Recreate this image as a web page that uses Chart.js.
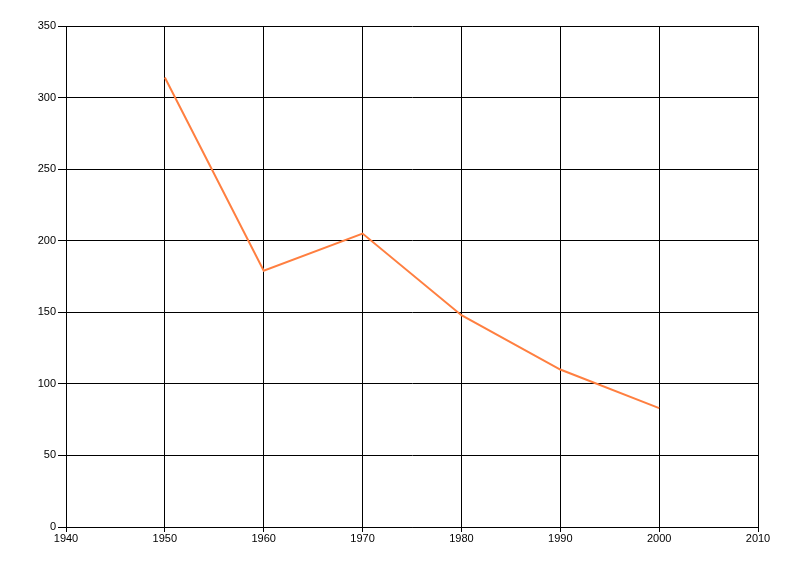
<!DOCTYPE html>
<html>
<head>
<meta charset="utf-8">
<script src="https://cdn.jsdelivr.net/npm/chart.js@4/dist/chart.umd.min.js"></script>
<style>
  html, body { margin: 0; padding: 0; background: #fff; }
  #wrap { width: 800px; height: 576px; }
</style>
</head>
<body>
<div id="wrap"><canvas id="chart" width="800" height="576"></canvas></div>
<script>
// data
const years = [1950, 1960, 1970, 1980, 1990, 2000];
const values = [314, 179, 205, 148, 110, 83];

const xMin = 1940, xMax = 2010, xStep = 10;
const yMin = 0, yMax = 350, yStep = 50;

const points = years.map((y, i) => ({ x: y, y: values[i] }));

new Chart(document.getElementById("chart"), {
  type: "line",
  data: {
    datasets: [{
      data: points,
      borderColor: "#ff7f40",
      borderWidth: 2,
      pointRadius: 0,
      tension: 0,
      fill: false
    }]
  },
  options: {
    responsive: false,
    animation: false,
    layout: { padding: { top: 26, right: 42, left: 0, bottom: 0 } },
    plugins: { legend: { display: false }, tooltip: { enabled: false } },
    scales: {
      x: {
        type: "linear",
        min: xMin, max: xMax,
        border: { color: "#000", width: 1 },
        grid: { color: "#000", lineWidth: 1, tickLength: 5, drawTicks: true },
        ticks: {
          stepSize: xStep, color: "#000", padding: 0, maxRotation: 0,
          font: { family: "'Liberation Sans', Arial", size: 11 },
          callback: v => String(v)
        },
        afterFit: s => { s.height = 49; }
      },
      y: {
        min: yMin, max: yMax,
        border: { color: "#000", width: 1 },
        grid: { color: "#000", lineWidth: 1, tickLength: 8, drawTicks: true },
        ticks: {
          stepSize: yStep, color: "#000", padding: 2,
          font: { family: "'Liberation Sans', Arial", size: 11 }
        },
        afterFit: s => { s.width = 66; }
      }
    }
  }
});
</script>
</body>
</html>
